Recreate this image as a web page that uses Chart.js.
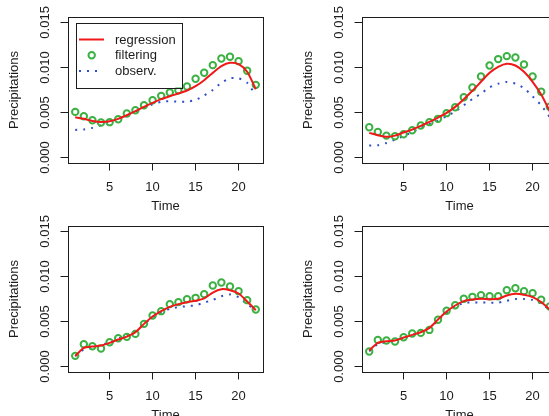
<!DOCTYPE html>
<html>
<head>
<meta charset="utf-8">
<script src="https://cdn.jsdelivr.net/npm/chart.js@4.4.1/dist/chart.umd.min.js"></script>
<style>
  html, body { margin: 0; padding: 0; background: #fff; }
  #wrap { position: relative; width: 549px; height: 416px; overflow: hidden; background: #fff; }
  .panel { position: absolute; width: 290px; height: 220px; }
</style>
</head>
<body>
<div id="wrap">
  <div class="panel" style="left:0px;top:0px"><canvas id="c1" width="290" height="220"></canvas></div>
  <div class="panel" style="left:294px;top:0px"><canvas id="c2" width="290" height="220"></canvas></div>
  <div class="panel" style="left:0px;top:209px"><canvas id="c3" width="290" height="220"></canvas></div>
  <div class="panel" style="left:294px;top:209px"><canvas id="c4" width="290" height="220"></canvas></div>
</div>
<script>
// === data ===
const time = [1, 2, 3, 4, 5, 6, 7, 8, 9, 10, 11, 12, 13, 14, 15, 16, 17, 18, 19, 20, 21, 22];
const xTicks = [5, 10, 15, 20];
const yTicks = [0, 0.005, 0.010, 0.015];
const seriesNames = ['regression', 'filtering', 'observ.'];

// panel 1 (top left)
const regression1 = [0.00448, 0.00430, 0.00407, 0.00396, 0.00404, 0.00430, 0.00470, 0.00515, 0.00563, 0.00607, 0.00648,
                     0.00681, 0.00711, 0.00744, 0.00793, 0.00859, 0.00940, 0.01015, 0.01052, 0.01037, 0.00952, 0.00759];
const filtering1 = [0.00507, 0.00459, 0.00415, 0.00389, 0.00393, 0.00426, 0.00489, 0.00526, 0.00581, 0.00637, 0.00685,
                    0.00722, 0.00748, 0.00789, 0.00874, 0.00941, 0.01026, 0.01100, 0.01119, 0.01070, 0.00963, 0.00807];
const observ1 = [0.00307, 0.00312, 0.00330, 0.00360, 0.00400, 0.00430, 0.00470, 0.00510, 0.00550, 0.00590, 0.00620,
                 0.00625, 0.00620, 0.00620, 0.00640, 0.00690, 0.00750, 0.00830, 0.00880, 0.00880, 0.00830, 0.00690];

// panel 2 (top right)
const regression2 = [0.00274, 0.00248, 0.00230, 0.00244, 0.00278, 0.00311, 0.00352, 0.00396, 0.00444, 0.00496, 0.00563,
                     0.00648, 0.00741, 0.00841, 0.00941, 0.01007, 0.01041, 0.01022, 0.00952, 0.00841, 0.00700, 0.00515];
const filtering2 = [0.00337, 0.00285, 0.00244, 0.00237, 0.00259, 0.00304, 0.00356, 0.00393, 0.00430, 0.00493, 0.00559,
                    0.00670, 0.00778, 0.00900, 0.01022, 0.01093, 0.01126, 0.01111, 0.01033, 0.00900, 0.00730, 0.00565];
const observ2 = [0.00133, 0.00138, 0.00162, 0.00200, 0.00240, 0.00280, 0.00330, 0.00370, 0.00410, 0.00460, 0.00510,
                 0.00580, 0.00650, 0.00710, 0.00780, 0.00820, 0.00840, 0.00820, 0.00770, 0.00680, 0.00580, 0.00450];

// panel 3 (bottom left)
const regression3 = [0.00115, 0.00207, 0.00222, 0.00233, 0.00263, 0.00300, 0.00333, 0.00381, 0.00474, 0.00556, 0.00615,
                     0.00663, 0.00693, 0.00715, 0.00730, 0.00756, 0.00822, 0.00859, 0.00848, 0.00811, 0.00722, 0.00626];
const filtering3 = [0.00119, 0.00248, 0.00226, 0.00200, 0.00270, 0.00315, 0.00330, 0.00363, 0.00474, 0.00567, 0.00615,
                    0.00693, 0.00715, 0.00748, 0.00763, 0.00804, 0.00900, 0.00933, 0.00889, 0.00837, 0.00737, 0.00633];
const observ3 = [0.00120, 0.00190, 0.00210, 0.00240, 0.00270, 0.00310, 0.00350, 0.00400, 0.00470, 0.00550, 0.00600,
                 0.00640, 0.00660, 0.00670, 0.00680, 0.00710, 0.00740, 0.00780, 0.00800, 0.00770, 0.00690, 0.00630];

// panel 4 (bottom right)
const regression4 = [0.00178, 0.00263, 0.00281, 0.00289, 0.00322, 0.00352, 0.00381, 0.00430, 0.00522, 0.00611, 0.00678,
                     0.00726, 0.00744, 0.00752, 0.00748, 0.00752, 0.00789, 0.00807, 0.00796, 0.00770, 0.00715, 0.00633];
const filtering4 = [0.00167, 0.00296, 0.00289, 0.00278, 0.00326, 0.00367, 0.00374, 0.00407, 0.00519, 0.00619, 0.00681,
                    0.00752, 0.00774, 0.00793, 0.00781, 0.00781, 0.00848, 0.00870, 0.00837, 0.00815, 0.00741, 0.00667];
const observ4 = [0.00170, 0.00250, 0.00270, 0.00290, 0.00320, 0.00350, 0.00390, 0.00430, 0.00510, 0.00600, 0.00660,
                 0.00710, 0.00710, 0.00710, 0.00710, 0.00710, 0.00730, 0.00750, 0.00750, 0.00740, 0.00700, 0.00630];

// === styles ===
const RED = '#f01818';
const GREEN = '#3bb143';
const BLUE = '#2e4fc9';
const INK = '#1c1c1c';
const FONT = { family: "'Liberation Sans', Arial, Helvetica, sans-serif", size: 13 };

// R-like box round the plot region
const frameBox = {
  id: 'frameBox',
  afterDraw(chart) {
    const { ctx, chartArea: a } = chart;
    ctx.save();
    ctx.strokeStyle = INK;
    ctx.lineWidth = 1;
    ctx.strokeRect(Math.round(a.left) + 0.5, Math.round(a.top) + 0.5,
                   Math.round(a.right - a.left), Math.round(a.bottom - a.top));
    ctx.restore();
  }
};

// legend in the upper left of the first panel, built from the datasets
const legendBox = {
  id: 'legendBox',
  afterDraw(chart) {
    const { ctx, chartArea: a } = chart;
    const x0 = a.left + 8, y0 = a.top + 5.5, w = 106, h = 65;
    ctx.save();
    ctx.fillStyle = '#fff';
    ctx.fillRect(x0, y0, w, h);
    ctx.strokeStyle = INK;
    ctx.lineWidth = 1;
    ctx.strokeRect(Math.round(x0) + 0.5, Math.round(y0) + 0.5, w, h);
    ctx.font = FONT.size + 'px ' + FONT.family;
    ctx.textBaseline = 'middle';
    ctx.fillStyle = INK;
    chart.data.datasets.forEach((ds, i) => {
      const y = y0 + 17 + i * 15.7;
      const sx = x0 + 3;
      ctx.save();
      ctx.strokeStyle = ds.borderColor;
      ctx.lineWidth = ds.borderWidth;
      if (ds.pointRadius > 0) {
        ctx.beginPath();
        ctx.arc(x0 + 15.7, y, ds.pointRadius, 0, Math.PI * 2);
        ctx.stroke();
      } else {
        ctx.setLineDash(ds.borderDash || []);
        ctx.beginPath();
        ctx.moveTo(sx, y);
        ctx.lineTo(sx + (ds.borderDash ? 20 : 25), y);
        ctx.stroke();
      }
      ctx.restore();
      ctx.fillText(ds.label, x0 + 39, y + 0.5);
    });
    ctx.restore();
  }
};

function makeChart(id, regression, filtering, observ, withLegend) {
  const pts = arr => arr.map((v, i) => ({ x: time[i], y: v }));
  return new Chart(document.getElementById(id), {
    type: 'line',
    data: {
      datasets: [
        { label: seriesNames[0], data: pts(regression), borderColor: RED, borderWidth: 2,
          pointRadius: 0, tension: 0.25, fill: false },
        { label: seriesNames[1], data: pts(filtering), borderColor: GREEN, borderWidth: 2,
          backgroundColor: 'rgba(0,0,0,0)', showLine: false, pointRadius: 3.2, pointStyle: 'circle' },
        { label: seriesNames[2], data: pts(observ), borderColor: BLUE, borderWidth: 2,
          borderDash: [2, 6], borderCapStyle: 'butt', pointRadius: 0, tension: 0.2, fill: false }
      ]
    },
    options: {
      responsive: false,
      animation: false,
      events: [],
      layout: { padding: { left: 0, top: 17, right: 27, bottom: 0 } },
      plugins: { legend: { display: false }, tooltip: { enabled: false } },
      scales: {
        x: {
          type: 'linear',
          min: 0.16,
          max: 22.84,
          afterBuildTicks: s => { s.ticks = xTicks.map(v => ({ value: v })); },
          afterFit: s => { s.height = 57; },
          grid: { drawOnChartArea: false, drawTicks: true, tickLength: 7.5, color: INK, lineWidth: 1 },
          border: { display: true, color: INK, width: 1 },
          ticks: { color: INK, font: FONT, padding: 9, maxRotation: 0, autoSkip: false },
          title: { display: true, text: 'Time', color: INK, font: FONT, padding: { top: 0, bottom: 6 } }
        },
        y: {
          min: -0.0006,
          max: 0.0156,
          afterBuildTicks: s => { s.ticks = yTicks.map(v => ({ value: v })); },
          afterFit: s => { s.width = 68; },
          grid: { drawOnChartArea: false, drawTicks: true, tickLength: 7.5, color: INK, lineWidth: 1 },
          border: { display: true, color: INK, width: 1 },
          ticks: { color: INK, font: FONT, padding: -1, minRotation: 90, maxRotation: 90,
                   crossAlign: 'center', autoSkip: false, callback: v => v.toFixed(3) },
          title: { display: true, text: 'Precipitations', color: INK, font: FONT, padding: { top: 6.5, bottom: 0 } }
        }
      }
    },
    plugins: withLegend ? [frameBox, legendBox] : [frameBox]
  });
}

makeChart('c1', regression1, filtering1, observ1, true);
makeChart('c2', regression2, filtering2, observ2, false);
makeChart('c3', regression3, filtering3, observ3, false);
makeChart('c4', regression4, filtering4, observ4, false);
</script>
</body>
</html>
